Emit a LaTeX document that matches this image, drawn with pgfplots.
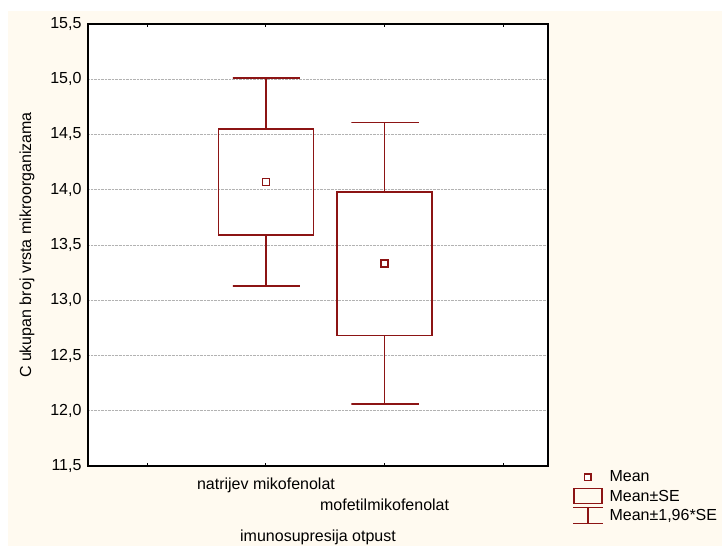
\documentclass[border=0pt]{standalone}
\usepackage{pgfplots}
\pgfplotsset{compat=1.18}
\usepackage{fontspec}
\setmainfont{Liberation Sans}
\definecolor{boxred}{RGB}{140,20,20}
\definecolor{cream}{RGB}{255,250,240}
\newcommand{\chartfont}{\fontsize{16bp}{19bp}\selectfont}
\pgfplotstableread{
x y
0.6 13.59
1.4 13.59
1.4 14.55
0.6 14.55
0.6 13.59
}\boxA
\pgfplotstableread{
x y
1.6 12.68
2.4 12.68
2.4 13.98
1.6 13.98
1.6 12.68
}\boxB
\begin{document}
\begin{tikzpicture}
\useasboundingbox (0bp,0bp) rectangle (722bp,546bp);
\fill[cream] (8bp,0bp) rectangle (722bp,535bp);
\begin{axis}[
  at={(88bp,80bp)}, anchor=south west,
  scale only axis, width=460bp, height=442bp,
  xmin=-0.5, xmax=3.377, ymin=11.5, ymax=15.5,
  axis background/.style={fill=white},
  xtick={0,1,2,3},
  xticklabels={{},{natrijev mikofenolat},{\raisebox{-21bp}{mofetilmikofenolat}},{}},
  xticklabel style={anchor=base, yshift=-23bp, font=\chartfont},
  ytick={11.5,12,12.5,13,13.5,14,14.5,15,15.5},
  yticklabel style={font=\chartfont, xshift=-3bp, /pgf/number format/.cd, fixed, fixed zerofill, precision=1, use comma, assume math mode=true},
  tick align=inside,
  major tick length=3bp,
  xtick style={black, line width=1bp},
  ytick style={draw=none},
  axis line style={black, line width=1.3bp},
  ymajorgrids,
  major grid style={densely dotted, color=black!30, line width=0.8bp},
  xlabel={imunosupresija otpust},
  xlabel style={at={(axis description cs:0.5,-0.1697)}, anchor=base, font=\chartfont},
  ylabel={C ukupan broj vrsta mikroorganizama},
  ylabel style={at={(axis description cs:-0.1326,0.5)}, anchor=center, font=\chartfont},
  legend style={at={(axis description cs:1.0543,-0.006)}, anchor=north west, draw=none, fill=none, font=\chartfont, row sep=2.5bp, column sep=5bp, inner sep=0pt},
  legend cell align=left,
  clip=false,
  every axis plot/.append style={line join=miter, line cap=rect},
]
% boxes (Mean +- SE)
\addplot[draw=boxred, line width=1.4bp, forget plot] table {\boxA};
\addplot[draw=boxred, line width=1.4bp, forget plot] table {\boxB};
% whiskers (Mean +- 1.96 SE)
\addplot[draw=boxred, line width=1.4bp, forget plot] coordinates {(1,14.55) (1,15.01) (0.72,15.01) (1.28,15.01)};
\addplot[draw=boxred, line width=1.4bp, forget plot] coordinates {(1,13.59) (1,13.13) (0.72,13.13) (1.28,13.13)};
\addplot[draw=boxred, line width=1.4bp, forget plot] coordinates {(2,13.98) (2,14.61) (1.72,14.61) (2.28,14.61)};
\addplot[draw=boxred, line width=1.4bp, forget plot] coordinates {(2,12.68) (2,12.06) (1.72,12.06) (2.28,12.06)};
% means
\addplot[only marks, mark=square*, mark size=3.5bp, mark options={fill=white, draw=boxred, line width=1.6bp, solid}, forget plot] coordinates {(1,14.07) (2,13.33)};
\addlegendimage{legend image code/.code={\draw[mark=square*, mark size=3.3bp, mark options={fill=white, draw=boxred, line width=1.6bp, solid}] plot coordinates {(14bp,0bp)};}}
\addlegendentry{Mean}
\addlegendimage{legend image code/.code={\draw[boxred, line width=1.4bp] (0bp,-7.5bp) rectangle (28bp,7.5bp);}}
\addlegendentry{Mean±SE}
\addlegendimage{legend image code/.code={\draw[boxred, line width=1.4bp] (0bp,8bp) -- (28bp,8bp) (14bp,8bp) -- (14bp,-8bp) (0bp,-8bp) -- (28bp,-8bp);}}
\addlegendentry{Mean±1,96*SE}
\end{axis}
\end{tikzpicture}
\end{document}
